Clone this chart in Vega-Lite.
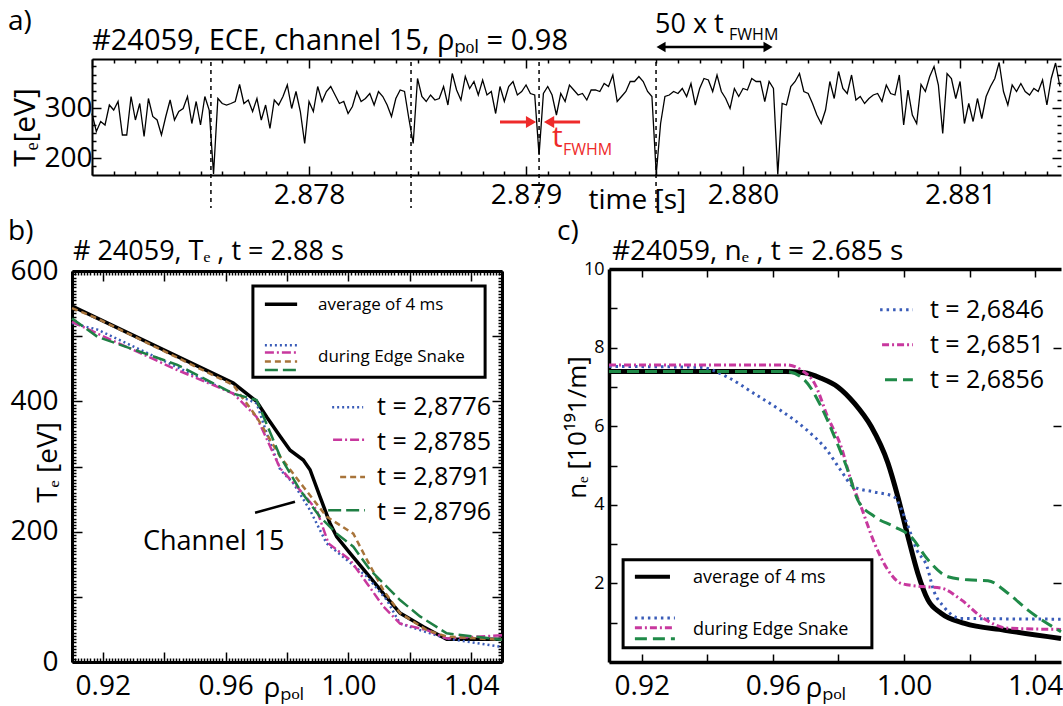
{
"$schema": "https://vega.github.io/schema/vega-lite/v6.json",
"background": "white",
"autosize": {"type": "none"},
"width": 991,
"height": 603,
"padding": {"left": 72, "top": 59, "right": 0, "bottom": 44},
"config": {
  "font": "Open Sans",
  "view": {"stroke": null},
  "axis": {"grid": false, "domain": false, "domainColor": "black", "tickColor": "black", "labelColor": "black", "titleColor": "black", "labelFont": "Open Sans", "titleFont": "Open Sans", "titleFontWeight": "normal", "labelOverlap": false, "labelFlush": false, "tickWidth": 1.5},
  "text": {"font": "Open Sans", "color": "black"}
},
"datasets": {
  "trace": [
{"t":2.87700,"v":289},{"t":2.87702,"v":253},{"t":2.87704,"v":273},{"t":2.87706,"v":266},{"t":2.87708,"v":306},{"t":2.87710,"v":296},{"t":2.87712,"v":313},{"t":2.87714,"v":246},{"t":2.87716,"v":246},{"t":2.87718,"v":323},
{"t":2.87720,"v":276},{"t":2.87722,"v":309},{"t":2.87724,"v":243},{"t":2.87726,"v":319},{"t":2.87728,"v":283},{"t":2.87730,"v":276},{"t":2.87732,"v":246},{"t":2.87734,"v":283},{"t":2.87736,"v":316},{"t":2.87738,"v":276},
{"t":2.87740,"v":293},{"t":2.87742,"v":299},{"t":2.87744,"v":323},{"t":2.87746,"v":269},{"t":2.87748,"v":313},{"t":2.87750,"v":266},{"t":2.87752,"v":323},{"t":2.87754,"v":296},{"t":2.87756,"v":168},{"t":2.87758,"v":319},
{"t":2.87760,"v":309},{"t":2.87762,"v":306},{"t":2.87764,"v":309},{"t":2.87766,"v":313},{"t":2.87768,"v":347},{"t":2.87770,"v":309},{"t":2.87772,"v":316},{"t":2.87774,"v":293},{"t":2.87776,"v":319},{"t":2.87778,"v":276},
{"t":2.87780,"v":306},{"t":2.87782,"v":259},{"t":2.87784,"v":316},{"t":2.87786,"v":306},{"t":2.87788,"v":323},{"t":2.87790,"v":346},{"t":2.87792,"v":299},{"t":2.87794,"v":333},{"t":2.87796,"v":293},{"t":2.87798,"v":229},
{"t":2.87800,"v":313},{"t":2.87802,"v":293},{"t":2.87804,"v":343},{"t":2.87806,"v":313},{"t":2.87808,"v":333},{"t":2.87810,"v":343},{"t":2.87812,"v":326},{"t":2.87814,"v":309},{"t":2.87816,"v":313},{"t":2.87818,"v":289},
{"t":2.87820,"v":303},{"t":2.87822,"v":333},{"t":2.87824,"v":313},{"t":2.87826,"v":319},{"t":2.87828,"v":329},{"t":2.87830,"v":306},{"t":2.87832,"v":333},{"t":2.87834,"v":323},{"t":2.87836,"v":306},{"t":2.87838,"v":283},
{"t":2.87840,"v":319},{"t":2.87842,"v":336},{"t":2.87844,"v":333},{"t":2.87846,"v":279},{"t":2.87848,"v":229},{"t":2.87850,"v":359},{"t":2.87852,"v":323},{"t":2.87854,"v":313},{"t":2.87856,"v":326},{"t":2.87858,"v":316},
{"t":2.87860,"v":319},{"t":2.87862,"v":343},{"t":2.87864,"v":306},{"t":2.87866,"v":369},{"t":2.87868,"v":336},{"t":2.87870,"v":316},{"t":2.87872,"v":363},{"t":2.87874,"v":339},{"t":2.87876,"v":353},{"t":2.87878,"v":326},
{"t":2.87880,"v":356},{"t":2.87882,"v":326},{"t":2.87884,"v":333},{"t":2.87886,"v":289},{"t":2.87888,"v":343},{"t":2.87890,"v":313},{"t":2.87892,"v":343},{"t":2.87894,"v":353},{"t":2.87896,"v":326},{"t":2.87898,"v":333},
{"t":2.87900,"v":346},{"t":2.87902,"v":329},{"t":2.87904,"v":326},{"t":2.87906,"v":206},{"t":2.87908,"v":329},{"t":2.87910,"v":343},{"t":2.87912,"v":326},{"t":2.87914,"v":286},{"t":2.87916,"v":329},{"t":2.87918,"v":313},
{"t":2.87920,"v":346},{"t":2.87922,"v":336},{"t":2.87924,"v":326},{"t":2.87926,"v":329},{"t":2.87928,"v":316},{"t":2.87930,"v":336},{"t":2.87932,"v":336},{"t":2.87934,"v":333},{"t":2.87936,"v":349},{"t":2.87938,"v":343},
{"t":2.87940,"v":366},{"t":2.87942,"v":313},{"t":2.87944,"v":323},{"t":2.87946,"v":333},{"t":2.87948,"v":353},{"t":2.87950,"v":353},{"t":2.87952,"v":363},{"t":2.87954,"v":353},{"t":2.87956,"v":333},{"t":2.87958,"v":323},
{"t":2.87960,"v":168},{"t":2.87962,"v":269},{"t":2.87964,"v":323},{"t":2.87966,"v":326},{"t":2.87968,"v":333},{"t":2.87970,"v":329},{"t":2.87972,"v":339},{"t":2.87974,"v":323},{"t":2.87976,"v":349},{"t":2.87978,"v":306},
{"t":2.87980,"v":339},{"t":2.87982,"v":359},{"t":2.87984,"v":356},{"t":2.87986,"v":333},{"t":2.87988,"v":366},{"t":2.87990,"v":333},{"t":2.87992,"v":319},{"t":2.87994,"v":299},{"t":2.87996,"v":339},{"t":2.87998,"v":323},
{"t":2.88000,"v":339},{"t":2.88002,"v":336},{"t":2.88004,"v":359},{"t":2.88006,"v":353},{"t":2.88008,"v":353},{"t":2.88010,"v":313},{"t":2.88012,"v":353},{"t":2.88014,"v":339},{"t":2.88016,"v":167},{"t":2.88018,"v":309},
{"t":2.88020,"v":306},{"t":2.88022,"v":343},{"t":2.88024,"v":353},{"t":2.88026,"v":369},{"t":2.88028,"v":333},{"t":2.88030,"v":329},{"t":2.88032,"v":309},{"t":2.88034,"v":286},{"t":2.88036,"v":269},{"t":2.88038,"v":296},
{"t":2.88040,"v":353},{"t":2.88042,"v":319},{"t":2.88044,"v":373},{"t":2.88046,"v":339},{"t":2.88048,"v":329},{"t":2.88050,"v":366},{"t":2.88052,"v":316},{"t":2.88054,"v":323},{"t":2.88056,"v":309},{"t":2.88058,"v":319},
{"t":2.88060,"v":326},{"t":2.88062,"v":329},{"t":2.88064,"v":313},{"t":2.88066,"v":346},{"t":2.88068,"v":329},{"t":2.88070,"v":326},{"t":2.88072,"v":366},{"t":2.88074,"v":266},{"t":2.88076,"v":336},{"t":2.88078,"v":286},
{"t":2.88080,"v":269},{"t":2.88082,"v":347},{"t":2.88084,"v":333},{"t":2.88086,"v":363},{"t":2.88088,"v":383},{"t":2.88090,"v":346},{"t":2.88092,"v":249},{"t":2.88094,"v":369},{"t":2.88096,"v":359},{"t":2.88098,"v":319},
{"t":2.88100,"v":353},{"t":2.88102,"v":269},{"t":2.88104,"v":309},{"t":2.88106,"v":273},{"t":2.88108,"v":319},{"t":2.88110,"v":279},{"t":2.88112,"v":323},{"t":2.88114,"v":343},{"t":2.88116,"v":359},{"t":2.88118,"v":391},
{"t":2.88120,"v":333},{"t":2.88122,"v":306},{"t":2.88124,"v":346},{"t":2.88126,"v":333},{"t":2.88128,"v":349},{"t":2.88130,"v":333},{"t":2.88132,"v":326},{"t":2.88134,"v":339},{"t":2.88136,"v":333},{"t":2.88138,"v":356},
{"t":2.88140,"v":306},{"t":2.88142,"v":359},{"t":2.88144,"v":390},{"t":2.88146,"v":343}
  ],
  "prof_b": [
{"s":"avg","rho":0.91,"Te":546},{"s":"avg","rho":0.9625,"Te":428},{"s":"avg","rho":0.9701,"Te":400},{"s":"avg","rho":0.9734,"Te":376},{"s":"avg","rho":0.9778,"Te":346},{"s":"avg","rho":0.981,"Te":325},{"s":"avg","rho":0.9853,"Te":310},{"s":"avg","rho":0.9875,"Te":295},{"s":"avg","rho":0.9907,"Te":254},{"s":"avg","rho":0.994,"Te":213},{"s":"avg","rho":0.9962,"Te":192},{"s":"avg","rho":1.0005,"Te":167},{"s":"avg","rho":1.006,"Te":136},{"s":"avg","rho":1.0114,"Te":105},{"s":"avg","rho":1.0168,"Te":75},{"s":"avg","rho":1.0244,"Te":54},{"s":"avg","rho":1.032,"Te":35},{"s":"avg","rho":1.05,"Te":35},
{"s":"2,8776","rho":0.91,"Te":520},{"s":"2,8776","rho":0.9183,"Te":510},{"s":"2,8776","rho":0.9625,"Te":412},{"s":"2,8776","rho":0.9701,"Te":397},{"s":"2,8776","rho":0.9734,"Te":351},{"s":"2,8776","rho":0.9778,"Te":295},{"s":"2,8776","rho":0.9821,"Te":274},{"s":"2,8776","rho":0.9875,"Te":233},{"s":"2,8776","rho":0.9929,"Te":182},{"s":"2,8776","rho":0.9994,"Te":157},{"s":"2,8776","rho":1.006,"Te":131},{"s":"2,8776","rho":1.0125,"Te":95},{"s":"2,8776","rho":1.0168,"Te":59},{"s":"2,8776","rho":1.0233,"Te":49},{"s":"2,8776","rho":1.032,"Te":36},{"s":"2,8776","rho":1.05,"Te":23},
{"s":"2,8785","rho":0.91,"Te":522},{"s":"2,8785","rho":0.9183,"Te":504},{"s":"2,8785","rho":0.9443,"Te":448},{"s":"2,8785","rho":0.9625,"Te":412},{"s":"2,8785","rho":0.9701,"Te":376},{"s":"2,8785","rho":0.9778,"Te":297},{"s":"2,8785","rho":0.9842,"Te":264},{"s":"2,8785","rho":0.9897,"Te":233},{"s":"2,8785","rho":0.9935,"Te":182},{"s":"2,8785","rho":1.0005,"Te":157},{"s":"2,8785","rho":1.006,"Te":121},{"s":"2,8785","rho":1.0114,"Te":85},{"s":"2,8785","rho":1.0168,"Te":59},{"s":"2,8785","rho":1.0255,"Te":49},{"s":"2,8785","rho":1.032,"Te":36},{"s":"2,8785","rho":1.05,"Te":41},
{"s":"2,8791","rho":0.91,"Te":543},{"s":"2,8791","rho":0.9183,"Te":527},{"s":"2,8791","rho":0.9625,"Te":425},{"s":"2,8791","rho":0.9701,"Te":376},{"s":"2,8791","rho":0.9778,"Te":315},{"s":"2,8791","rho":0.9853,"Te":269},{"s":"2,8791","rho":0.9929,"Te":223},{"s":"2,8791","rho":1.0016,"Te":197},{"s":"2,8791","rho":1.006,"Te":157},{"s":"2,8791","rho":1.0114,"Te":110},{"s":"2,8791","rho":1.0168,"Te":75},{"s":"2,8791","rho":1.0255,"Te":49},{"s":"2,8791","rho":1.032,"Te":39},{"s":"2,8791","rho":1.05,"Te":34},
{"s":"2,8796","rho":0.91,"Te":527},{"s":"2,8796","rho":0.9183,"Te":499},{"s":"2,8796","rho":0.9443,"Te":456},{"s":"2,8796","rho":0.9625,"Te":412},{"s":"2,8796","rho":0.9701,"Te":402},{"s":"2,8796","rho":0.9778,"Te":315},{"s":"2,8796","rho":0.9842,"Te":264},{"s":"2,8796","rho":0.9907,"Te":223},{"s":"2,8796","rho":0.9962,"Te":197},{"s":"2,8796","rho":1.0016,"Te":177},{"s":"2,8796","rho":1.0071,"Te":141},{"s":"2,8796","rho":1.0168,"Te":95},{"s":"2,8796","rho":1.0233,"Te":70},{"s":"2,8796","rho":1.032,"Te":44},{"s":"2,8796","rho":1.05,"Te":34}
  ],
  "prof_c": [
{"s":"avg","rho":0.91,"ne":7.39},{"s":"avg","rho":0.964,"ne":7.39},{"s":"avg","rho":0.9696,"ne":7.36},{"s":"avg","rho":0.9747,"ne":7.22},{"s":"avg","rho":0.9798,"ne":7.0},{"s":"avg","rho":0.9849,"ne":6.58},{"s":"avg","rho":0.99,"ne":5.99},{"s":"avg","rho":0.9951,"ne":5.06},{"s":"avg","rho":0.9981,"ne":4.21},{"s":"avg","rho":1.0012,"ne":3.19},{"s":"avg","rho":1.0042,"ne":2.26},{"s":"avg","rho":1.0073,"ne":1.58},{"s":"avg","rho":1.0113,"ne":1.24},{"s":"avg","rho":1.0185,"ne":0.98},{"s":"avg","rho":1.0307,"ne":0.81},{"s":"avg","rho":1.0479,"ne":0.6},
{"s":"2,6846","rho":0.91,"ne":7.52},{"s":"2,6846","rho":0.9378,"ne":7.5},{"s":"2,6846","rho":0.9459,"ne":7.26},{"s":"2,6846","rho":0.9541,"ne":6.84},{"s":"2,6846","rho":0.9622,"ne":6.41},{"s":"2,6846","rho":0.9704,"ne":5.9},{"s":"2,6846","rho":0.9765,"ne":5.39},{"s":"2,6846","rho":0.9806,"ne":4.89},{"s":"2,6846","rho":0.9846,"ne":4.46},{"s":"2,6846","rho":0.9907,"ne":4.33},{"s":"2,6846","rho":0.9968,"ne":4.21},{"s":"2,6846","rho":1.0009,"ne":3.53},{"s":"2,6846","rho":1.0039,"ne":2.85},{"s":"2,6846","rho":1.007,"ne":2.43},{"s":"2,6846","rho":1.009,"ne":1.83},{"s":"2,6846","rho":1.0121,"ne":1.41},{"s":"2,6846","rho":1.0172,"ne":1.11},{"s":"2,6846","rho":1.0479,"ne":1.09},
{"s":"2,6851","rho":0.91,"ne":7.56},{"s":"2,6851","rho":0.964,"ne":7.56},{"s":"2,6851","rho":0.9686,"ne":7.43},{"s":"2,6851","rho":0.9727,"ne":7.09},{"s":"2,6851","rho":0.9767,"ne":6.24},{"s":"2,6851","rho":0.9808,"ne":5.48},{"s":"2,6851","rho":0.9838,"ne":4.63},{"s":"2,6851","rho":0.9869,"ne":3.95},{"s":"2,6851","rho":0.991,"ne":3.02},{"s":"2,6851","rho":0.9951,"ne":2.34},{"s":"2,6851","rho":0.9991,"ne":2.0},{"s":"2,6851","rho":1.0042,"ne":1.93},{"s":"2,6851","rho":1.0113,"ne":1.88},{"s":"2,6851","rho":1.0175,"ne":1.58},{"s":"2,6851","rho":1.0236,"ne":1.15},{"s":"2,6851","rho":1.0317,"ne":0.86},{"s":"2,6851","rho":1.0479,"ne":0.83},
{"s":"2,6856","rho":0.91,"ne":7.39},{"s":"2,6856","rho":0.9642,"ne":7.39},{"s":"2,6856","rho":0.9696,"ne":7.18},{"s":"2,6856","rho":0.9747,"ne":6.5},{"s":"2,6856","rho":0.9788,"ne":5.73},{"s":"2,6856","rho":0.9828,"ne":4.89},{"s":"2,6856","rho":0.9859,"ne":4.12},{"s":"2,6856","rho":0.991,"ne":3.7},{"s":"2,6856","rho":0.9971,"ne":3.44},{"s":"2,6856","rho":1.0021,"ne":3.19},{"s":"2,6856","rho":1.0073,"ne":2.6},{"s":"2,6856","rho":1.0134,"ne":2.17},{"s":"2,6856","rho":1.0195,"ne":2.09},{"s":"2,6856","rho":1.0256,"ne":2.07},{"s":"2,6856","rho":1.0317,"ne":1.75},{"s":"2,6856","rho":1.0378,"ne":1.32},{"s":"2,6856","rho":1.0479,"ne":0.77}
  ],
  "leg_b": [
{"s":"2,8776","seg":"b1","rho":0.9728,"Te":486},{"s":"2,8776","seg":"b1","rho":0.9833,"Te":486},
{"s":"2,8785","seg":"b2","rho":0.9728,"Te":475},{"s":"2,8785","seg":"b2","rho":0.9833,"Te":475},
{"s":"2,8791","seg":"b3","rho":0.9728,"Te":461},{"s":"2,8791","seg":"b3","rho":0.9833,"Te":461},
{"s":"2,8796","seg":"b4","rho":0.9728,"Te":448},{"s":"2,8796","seg":"b4","rho":0.9833,"Te":448},
{"s":"2,8776","seg":"r1","rho":0.9947,"Te":391},{"s":"2,8776","seg":"r1","rho":1.0048,"Te":391},
{"s":"2,8785","seg":"r2","rho":0.995,"Te":341},{"s":"2,8785","seg":"r2","rho":1.0054,"Te":341},
{"s":"2,8791","seg":"r3","rho":0.9973,"Te":284},{"s":"2,8791","seg":"r3","rho":1.0054,"Te":284},
{"s":"2,8796","seg":"r4","rho":0.9934,"Te":233},{"s":"2,8796","seg":"r4","rho":1.0054,"Te":233}
  ],
  "leg_c": [
{"s":"2,6846","seg":"b1","rho":0.9179,"ne":1.12},{"s":"2,6846","seg":"b1","rho":0.9301,"ne":1.12},
{"s":"2,6851","seg":"b2","rho":0.9179,"ne":0.87},{"s":"2,6851","seg":"b2","rho":0.9301,"ne":0.87},
{"s":"2,6856","seg":"b3","rho":0.9179,"ne":0.59},{"s":"2,6856","seg":"b3","rho":0.9301,"ne":0.59},
{"s":"2,6846","seg":"r1","rho":0.9927,"ne":8.96},{"s":"2,6846","seg":"r1","rho":1.0027,"ne":8.96},
{"s":"2,6851","seg":"r2","rho":0.9933,"ne":8.07},{"s":"2,6851","seg":"r2","rho":1.0027,"ne":8.07},
{"s":"2,6856","seg":"r3","rho":0.9942,"ne":7.18},{"s":"2,6856","seg":"r3","rho":1.0027,"ne":7.18}
  ]
},
"layer": [
{
  "layer": [
    {"data": {"name": "trace"}, "mark": {"type": "line", "color": "black", "strokeWidth": 1.3},
     "encoding": {
       "x": {"field": "t", "type": "quantitative", "scale": {"domain": [2.877, 2.881465], "range": [20, 989], "nice": false, "zero": false},
             "axis": {"orient": "bottom", "offset": -487, "domain": true, "domainWidth": 2, "tickCount": 45, "format": ".3f",
                      "labelExpr": "abs(datum.value*1000 - round(datum.value*1000)) < 0.001 && datum.value > 2.8775 ? datum.label : ''",
                      "labelFontSize": 28, "labelPadding": 15,
                      "tickSize": {"condition": {"test": "abs(datum.value*1000 - round(datum.value*1000)) < 0.001", "value": -9}, "value": -4},
                      "title": "time [s]", "titleFontSize": 28, "titleX": 516, "titleY": 33, "titleAlign": "left", "titleBaseline": "alphabetic"}},
       "y": {"field": "v", "type": "quantitative", "scale": {"domain": [166, 398], "range": [116, 0], "nice": false, "zero": false},
             "axis": {"orient": "left", "offset": -20, "domain": true, "domainWidth": 2, "values": [183.33, 200, 216.67, 233.33, 250, 266.67, 283.33, 300, 316.67, 333.33, 350, 366.67, 383.33],
                      "format": "d", "labelExpr": "datum.value == 200 || datum.value == 300 ? datum.label : ''",
                      "labelFontSize": 28, "labelPadding": 9,
                      "tickSize": {"condition": {"test": "datum.value == 200 || datum.value == 300", "value": -9}, "value": -4},
                      "title": "Tₑ[eV]", "titleFontSize": 30, "titleX": -58, "titleY": 68, "titleAlign": "center", "titleBaseline": "alphabetic"}}
     }},
    {"data": {"name": "trace"}, "mark": {"type": "point", "opacity": 0},
     "encoding": {
       "x": {"field": "t", "type": "quantitative",
             "axis": {"orient": "top", "offset": 0, "domain": true, "domainWidth": 2, "labels": false, "title": null, "tickCount": 45,
                      "tickSize": {"condition": {"test": "abs(datum.value*1000 - round(datum.value*1000)) < 0.001", "value": -9}, "value": -4}}},
       "y": {"field": "v", "type": "quantitative",
             "axis": {"orient": "right", "offset": -2, "domain": false, "labels": false, "title": null, "values": [183.33, 200, 216.67, 233.33, 250, 266.67, 283.33, 300, 316.67, 333.33, 350, 366.67, 383.33],
                      "tickSize": {"condition": {"test": "datum.value == 200 || datum.value == 300", "value": -9}, "value": -4}}}
     }},
    {"data": {"values": [{"t": 2.877548}, {"t": 2.87847}, {"t": 2.87906}, {"t": 2.879599}]},
     "mark": {"type": "rule", "strokeDash": [4, 4], "strokeWidth": 1.5, "color": "black"},
     "encoding": {"x": {"field": "t", "type": "quantitative", "axis": null}, "y": {"datum": 392, "axis": null}, "y2": {"datum": 100}}},
    {"data": {"values": [{"t1": 2.87888, "t2": 2.879009}, {"t1": 2.879249, "t2": 2.87912}]},
     "mark": {"type": "rule", "color": "#ee2a2a", "strokeWidth": 3},
     "encoding": {"x": {"field": "t1", "type": "quantitative", "axis": null}, "x2": {"field": "t2"}, "y": {"datum": 272, "axis": null}}},
    {"data": {"values": [{"t": 2.879023}]},
     "mark": {"type": "point", "shape": "triangle-right", "filled": true, "color": "#ee2a2a", "size": 140, "opacity": 1},
     "encoding": {"x": {"field": "t", "type": "quantitative", "axis": null}, "y": {"datum": 272, "axis": null}}},
    {"data": {"values": [{"t": 2.879106}]},
     "mark": {"type": "point", "shape": "triangle-left", "filled": true, "color": "#ee2a2a", "size": 140, "opacity": 1},
     "encoding": {"x": {"field": "t", "type": "quantitative", "axis": null}, "y": {"datum": 272, "axis": null}}},
    {"data": {"values": [{"t1": 2.87962, "t2": 2.880115}]},
     "mark": {"type": "rule", "color": "black", "strokeWidth": 2.5},
     "encoding": {"x": {"field": "t1", "type": "quantitative", "axis": null}, "x2": {"field": "t2"}, "y": {"datum": 422, "axis": null}}},
    {"data": {"values": [{"t": 2.8796221}]},
     "mark": {"type": "point", "shape": "triangle-left", "filled": true, "color": "black", "size": 110, "opacity": 1},
     "encoding": {"x": {"field": "t", "type": "quantitative", "axis": null}, "y": {"datum": 422, "axis": null}}},
    {"data": {"values": [{"t": 2.8801152}]},
     "mark": {"type": "point", "shape": "triangle-right", "filled": true, "color": "black", "size": 110, "opacity": 1},
     "encoding": {"x": {"field": "t", "type": "quantitative", "axis": null}, "y": {"datum": 422, "axis": null}}},
    {"data": {"values": [{"t": 2.876613, "v": 456, "label": "a)"}]},
     "mark": {"type": "text", "align": "left", "baseline": "alphabetic", "fontSize": 28},
     "encoding": {"x": {"field": "t", "type": "quantitative", "axis": null}, "y": {"field": "v", "type": "quantitative", "axis": null}, "text": {"field": "label"}}},
    {"data": {"values": [{"t": 2.877, "v": 416, "label": "#24059, ECE, channel 15, ρₚₒₗ = 0.98"}]},
     "mark": {"type": "text", "align": "left", "baseline": "alphabetic", "fontSize": 29},
     "encoding": {"x": {"field": "t", "type": "quantitative", "axis": null}, "y": {"field": "v", "type": "quantitative", "axis": null}, "text": {"field": "label"}}},
    {"data": {"values": [{"t": 2.8795945, "v": 450, "label": "50 x t"}]},
     "mark": {"type": "text", "align": "left", "baseline": "alphabetic", "fontSize": 27},
     "encoding": {"x": {"field": "t", "type": "quantitative", "axis": null}, "y": {"field": "v", "type": "quantitative", "axis": null}, "text": {"field": "label"}}},
    {"data": {"values": [{"t": 2.8799355, "v": 436, "label": "FWHM"}]},
     "mark": {"type": "text", "align": "left", "baseline": "alphabetic", "fontSize": 16},
     "encoding": {"x": {"field": "t", "type": "quantitative", "axis": null}, "y": {"field": "v", "type": "quantitative", "axis": null}, "text": {"field": "label"}}},
    {"data": {"values": [{"t": 2.8791198, "v": 223, "label": "t"}]},
     "mark": {"type": "text", "align": "left", "baseline": "alphabetic", "fontSize": 30, "color": "#ee2a2a"},
     "encoding": {"x": {"field": "t", "type": "quantitative", "axis": null}, "y": {"field": "v", "type": "quantitative", "axis": null}, "text": {"field": "label"}}},
    {"data": {"values": [{"t": 2.8791705, "v": 206, "label": "FWHM"}]},
     "mark": {"type": "text", "align": "left", "baseline": "alphabetic", "fontSize": 16, "color": "#ee2a2a"},
     "encoding": {"x": {"field": "t", "type": "quantitative", "axis": null}, "y": {"field": "v", "type": "quantitative", "axis": null}, "text": {"field": "label"}}}
  ],
  "resolve": {"axis": {"x": "independent", "y": "independent"}}
},
{
  "layer": [
    {"data": {"name": "prof_b"}, "transform": [{"filter": "datum.s == 'avg'"}],
     "mark": {"type": "line", "color": "black", "strokeWidth": 3.5},
     "encoding": {
       "x": {"field": "rho", "type": "quantitative", "scale": {"domain": [0.91, 1.05], "range": [0, 430], "nice": false, "zero": false},
             "axis": {"orient": "bottom", "offset": 0, "domain": true, "domainWidth": 3, "tickCount": 140, "format": ".2f",
                      "labelExpr": "abs(datum.value*25 - round(datum.value*25)) < 0.001 ? datum.label : ''",
                      "labelFontSize": 28, "labelPadding": 20,
                      "tickSize": {"condition": {"test": "abs(datum.value*50 - round(datum.value*50)) < 0.001", "value": -10}, "value": -4},
                      "title": "ρₚₒₗ", "titleFontSize": 28, "titleX": 191, "titleY": 34, "titleAlign": "left", "titleBaseline": "alphabetic"}},
       "y": {"field": "Te", "type": "quantitative", "scale": {"domain": [0, 600], "range": [603, 212], "nice": false, "zero": false},
             "axis": {"orient": "left", "offset": 0, "domain": true, "domainWidth": 3, "tickCount": 120, "format": "d",
                      "labelExpr": "datum.value % 200 == 0 ? datum.label : ''",
                      "labelFontSize": 28, "labelPadding": 24,
                      "tickSize": {"condition": {"test": "datum.value % 100 == 0", "value": -10}, "value": -4},
                      "title": "Tₑ [eV]", "titleFontSize": 28, "titleX": -16, "titleY": 403, "titleAlign": "center", "titleBaseline": "alphabetic"}}
     }},
    {"data": {"name": "prof_b"}, "mark": {"type": "point", "opacity": 0},
     "encoding": {
       "x": {"field": "rho", "type": "quantitative",
             "axis": {"orient": "top", "offset": -212, "domain": true, "domainWidth": 3, "labels": false, "title": null, "tickCount": 140,
                      "tickSize": {"condition": {"test": "abs(datum.value*50 - round(datum.value*50)) < 0.001", "value": -10}, "value": -4}}},
       "y": {"field": "Te", "type": "quantitative",
             "axis": {"orient": "right", "offset": -561, "domain": true, "domainWidth": 3, "labels": false, "title": null, "tickCount": 120,
                      "tickSize": {"condition": {"test": "datum.value % 100 == 0", "value": -10}, "value": -4}}}
     }},
    {"data": {"name": "prof_b"}, "transform": [{"filter": "datum.s != 'avg'"}],
     "mark": {"type": "line", "strokeWidth": 2.5},
     "encoding": {
       "x": {"field": "rho", "type": "quantitative", "axis": null},
       "y": {"field": "Te", "type": "quantitative", "axis": null},
       "color": {"field": "s", "type": "nominal", "scale": {"domain": ["2,8776", "2,8785", "2,8791", "2,8796"], "range": ["#3a5cb8", "#c8389e", "#a8743a", "#1f7f44"]}, "legend": null},
       "strokeDash": {"field": "s", "type": "nominal", "scale": {"domain": ["2,8776", "2,8785", "2,8791", "2,8796"], "range": [[2, 3], [9, 3, 2, 3], [6, 4], [13, 5]]}, "legend": null}
     }},
    {"data": {"values": [{"x1": 0.9689, "x2": 1.0445, "y1": 577, "y2": 437}]},
     "mark": {"type": "rect", "fill": "white", "stroke": "black", "strokeWidth": 3},
     "encoding": {"x": {"field": "x1", "type": "quantitative", "axis": null}, "x2": {"field": "x2"}, "y": {"field": "y1", "type": "quantitative", "axis": null}, "y2": {"field": "y2"}}},
    {"data": {"name": "leg_b"},
     "mark": {"type": "line", "strokeWidth": 2.5},
     "encoding": {
       "x": {"field": "rho", "type": "quantitative", "axis": null},
       "y": {"field": "Te", "type": "quantitative", "axis": null},
       "detail": {"field": "seg"},
       "color": {"field": "s", "type": "nominal", "legend": null},
       "strokeDash": {"field": "s", "type": "nominal", "legend": null}
     }},
    {"data": {"values": [{"x1": 0.9728, "x2": 0.9833, "y": 549}]},
     "mark": {"type": "rule", "color": "black", "strokeWidth": 3.5},
     "encoding": {"x": {"field": "x1", "type": "quantitative", "axis": null}, "x2": {"field": "x2"}, "y": {"field": "y", "type": "quantitative", "axis": null}}},
    {"data": {"values": [{"rho": 0.9901, "Te": 540, "label": "average of 4 ms"}, {"rho": 0.9901, "Te": 460, "label": "during Edge Snake"}]},
     "mark": {"type": "text", "align": "left", "baseline": "alphabetic", "fontSize": 17},
     "encoding": {"x": {"field": "rho", "type": "quantitative", "axis": null}, "y": {"field": "Te", "type": "quantitative", "axis": null}, "text": {"field": "label"}}},
    {"data": {"values": [{"rho": 1.0093, "Te": 379, "label": "t = 2,8776"}, {"rho": 1.0093, "Te": 325, "label": "t = 2,8785"}, {"rho": 1.0093, "Te": 272, "label": "t = 2,8791"}, {"rho": 1.0093, "Te": 218, "label": "t = 2,8796"}]},
     "mark": {"type": "text", "align": "left", "baseline": "alphabetic", "fontSize": 25},
     "encoding": {"x": {"field": "rho", "type": "quantitative", "axis": null}, "y": {"field": "Te", "type": "quantitative", "axis": null}, "text": {"field": "label"}}},
    {"data": {"values": [{"rho": 0.9331, "Te": 172, "label": "Channel 15"}]},
     "mark": {"type": "text", "align": "left", "baseline": "alphabetic", "fontSize": 27},
     "encoding": {"x": {"field": "rho", "type": "quantitative", "axis": null}, "y": {"field": "Te", "type": "quantitative", "axis": null}, "text": {"field": "label"}}},
    {"data": {"values": [{"x1": 0.9696, "y1": 229, "x2": 0.9826, "y2": 246}]},
     "mark": {"type": "rule", "color": "black", "strokeWidth": 2.5},
     "encoding": {"x": {"field": "x1", "type": "quantitative", "axis": null}, "x2": {"field": "x2"}, "y": {"field": "y1", "type": "quantitative", "axis": null}, "y2": {"field": "y2"}}},
    {"data": {"values": [{"rho": 0.8892, "Te": 648, "label": "b)"}]},
     "mark": {"type": "text", "align": "left", "baseline": "alphabetic", "fontSize": 28},
     "encoding": {"x": {"field": "rho", "type": "quantitative", "axis": null}, "y": {"field": "Te", "type": "quantitative", "axis": null}, "text": {"field": "label"}}},
    {"data": {"values": [{"rho": 0.9103, "Te": 617, "label": "# 24059, Tₑ , t = 2.88 s"}]},
     "mark": {"type": "text", "align": "left", "baseline": "alphabetic", "fontSize": 27},
     "encoding": {"x": {"field": "rho", "type": "quantitative", "axis": null}, "y": {"field": "Te", "type": "quantitative", "axis": null}, "text": {"field": "label"}}}
  ],
  "resolve": {"axis": {"x": "independent", "y": "independent"}}
},
{
  "layer": [
    {"data": {"name": "prof_c"}, "transform": [{"filter": "datum.s == 'avg'"}],
     "mark": {"type": "line", "color": "black", "strokeWidth": 5, "interpolate": "monotone"},
     "encoding": {
       "x": {"field": "rho", "type": "quantitative", "scale": {"domain": [0.91, 1.04789], "range": [537, 989], "nice": false, "zero": false},
             "axis": {"orient": "bottom", "offset": 0, "domain": true, "domainWidth": 3.5, "tickCount": 7, "format": ".2f",
                      "labelExpr": "abs(datum.value*25 - round(datum.value*25)) < 0.001 ? datum.label : ''",
                      "labelFontSize": 28, "labelPadding": 18, "tickSize": -8,
                      "title": "ρₚₒₗ", "titleFontSize": 28, "titleX": 733, "titleY": 34, "titleAlign": "left", "titleBaseline": "alphabetic"}},
       "y": {"field": "ne", "type": "quantitative", "scale": {"domain": [0, 10], "range": [603, 210], "nice": false, "zero": false},
             "axis": {"orient": "left", "offset": -537, "domain": true, "domainWidth": 3.5, "tickCount": 10, "format": "d",
                      "labelExpr": "datum.value % 2 == 0 && datum.value > 0 ? datum.label : ''",
                      "labelFontSize": 18, "labelPadding": 13, "tickSize": -8,
                      "title": "nₑ [10¹⁹1/m]", "titleFontSize": 26, "titleX": -24, "titleY": 368, "titleAlign": "center", "titleBaseline": "alphabetic"}}
     }},
    {"data": {"name": "prof_c"}, "mark": {"type": "point", "opacity": 0},
     "encoding": {
       "x": {"field": "rho", "type": "quantitative",
             "axis": {"orient": "top", "offset": -210, "domain": true, "domainWidth": 3.5, "labels": false, "title": null, "tickCount": 7, "tickSize": -8}},
       "y": {"field": "ne", "type": "quantitative",
             "axis": {"orient": "right", "offset": -2, "domain": false, "labels": false, "title": null, "values": [2, 4, 6, 8], "tickSize": -8}}
     }},
    {"data": {"name": "prof_c"}, "transform": [{"filter": "datum.s != 'avg'"}],
     "mark": {"type": "line", "strokeWidth": 3, "interpolate": "monotone"},
     "encoding": {
       "x": {"field": "rho", "type": "quantitative", "axis": null},
       "y": {"field": "ne", "type": "quantitative", "axis": null},
       "color": {"field": "s", "type": "nominal", "scale": {"domain": ["2,6846", "2,6851", "2,6856"], "range": ["#3a5cb8", "#c8389e", "#1f8a48"]}, "legend": null},
       "strokeDash": {"field": "s", "type": "nominal", "scale": {"domain": ["2,6846", "2,6851", "2,6856"], "range": [[2.5, 4], [7, 3, 2, 3], [12, 6]]}, "legend": null}
     }},
    {"data": {"values": [{"x1": 0.9143, "x2": 0.9902, "y1": 2.6, "y2": 0.36}]},
     "mark": {"type": "rect", "fill": "white", "stroke": "black", "strokeWidth": 3},
     "encoding": {"x": {"field": "x1", "type": "quantitative", "axis": null}, "x2": {"field": "x2"}, "y": {"field": "y1", "type": "quantitative", "axis": null}, "y2": {"field": "y2"}}},
    {"data": {"name": "leg_c"},
     "mark": {"type": "line", "strokeWidth": 3},
     "encoding": {
       "x": {"field": "rho", "type": "quantitative", "axis": null},
       "y": {"field": "ne", "type": "quantitative", "axis": null},
       "detail": {"field": "seg"},
       "color": {"field": "s", "type": "nominal", "legend": null},
       "strokeDash": {"field": "s", "type": "nominal", "legend": null}
     }},
    {"data": {"values": [{"x1": 0.9179, "x2": 0.9286, "y": 2.17}]},
     "mark": {"type": "rule", "color": "black", "strokeWidth": 4},
     "encoding": {"x": {"field": "x1", "type": "quantitative", "axis": null}, "x2": {"field": "x2"}, "y": {"field": "y", "type": "quantitative", "axis": null}}},
    {"data": {"values": [{"rho": 0.9356, "ne": 2.01, "label": "average of 4 ms"}, {"rho": 0.9356, "ne": 0.69, "label": "during Edge Snake"}]},
     "mark": {"type": "text", "align": "left", "baseline": "alphabetic", "fontSize": 18},
     "encoding": {"x": {"field": "rho", "type": "quantitative", "axis": null}, "y": {"field": "ne", "type": "quantitative", "axis": null}, "text": {"field": "label"}}},
    {"data": {"values": [{"rho": 1.0079, "ne": 8.75, "label": "t = 2,6846"}, {"rho": 1.0079, "ne": 7.86, "label": "t = 2,6851"}, {"rho": 1.0079, "ne": 6.97, "label": "t = 2,6856"}]},
     "mark": {"type": "text", "align": "left", "baseline": "alphabetic", "fontSize": 25},
     "encoding": {"x": {"field": "rho", "type": "quantitative", "axis": null}, "y": {"field": "ne", "type": "quantitative", "axis": null}, "text": {"field": "label"}}},
    {"data": {"values": [{"rho": 0.89414, "ne": 10.74, "label": "c)"}]},
     "mark": {"type": "text", "align": "left", "baseline": "alphabetic", "fontSize": 28},
     "encoding": {"x": {"field": "rho", "type": "quantitative", "axis": null}, "y": {"field": "ne", "type": "quantitative", "axis": null}, "text": {"field": "label"}}},
    {"data": {"values": [{"rho": 0.9109, "ne": 10.23, "label": "#24059, nₑ , t = 2.685 s"}]},
     "mark": {"type": "text", "align": "left", "baseline": "alphabetic", "fontSize": 28},
     "encoding": {"x": {"field": "rho", "type": "quantitative", "axis": null}, "y": {"field": "ne", "type": "quantitative", "axis": null}, "text": {"field": "label"}}}
  ],
  "resolve": {"axis": {"x": "independent", "y": "independent"}}
}
],
"resolve": {"scale": {"x": "independent", "y": "independent", "color": "independent", "strokeDash": "independent"}, "axis": {"x": "independent", "y": "independent"}}
}
